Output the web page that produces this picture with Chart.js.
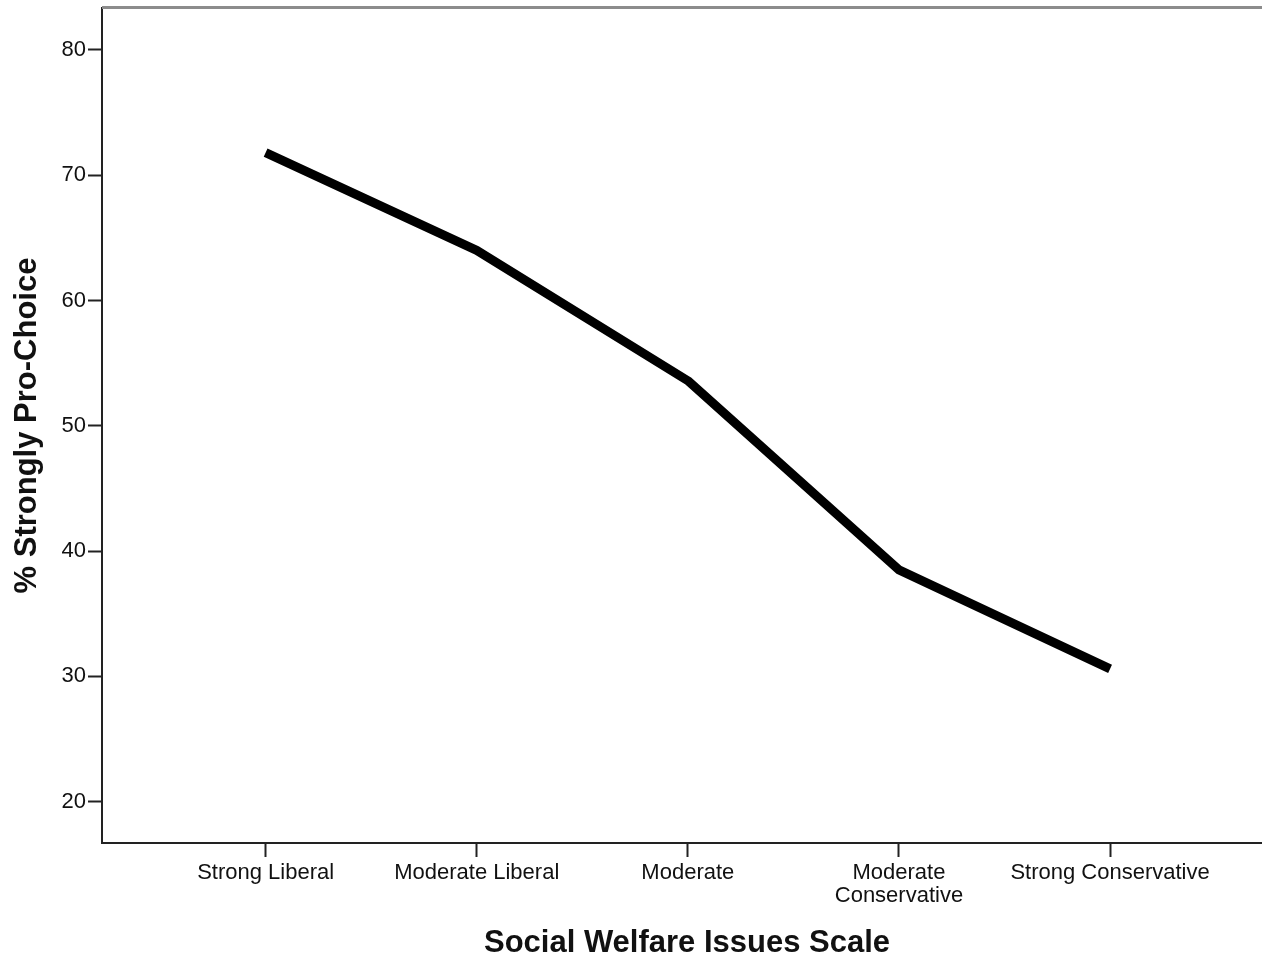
<!DOCTYPE html>
<html>
<head>
<meta charset="utf-8">
<script src="https://cdn.jsdelivr.net/npm/chart.js@4/dist/chart.umd.min.js"></script>
<style>
html,body{margin:0;padding:0;background:#fff;overflow:hidden;width:1262px;height:959px;}
#wrap{width:1272px;height:959px;}
</style>
</head>
<body>
<div id="wrap"><canvas id="c" width="1272" height="959"></canvas></div>
<script>
const categories = ["Strong Liberal", "Moderate Liberal", "Moderate", "Moderate Conservative", "Strong Conservative"];
const tickLabels = ["Strong Liberal", "Moderate Liberal", "Moderate", ["Moderate", "Conservative"], "Strong Conservative"];
const pctStronglyProChoice = [71.8, 64.0, 53.6, 38.5, 30.6];
const yTickValues = [20, 30, 40, 50, 60, 70, 80];
const xTitle = "Social Welfare Issues Scale";
const yTitle = "% Strongly Pro-Choice";

const points = categories.map((c, i) => ({x: i, y: pctStronglyProChoice[i]}));

const topBorder = {
  id: 'topBorder',
  afterDraw(chart) {
    const {ctx, chartArea} = chart;
    ctx.save();
    ctx.strokeStyle = '#8c8c8c';
    ctx.lineWidth = 3;
    ctx.beginPath();
    ctx.moveTo(chartArea.left, chartArea.top - 0.5);
    ctx.lineTo(chartArea.right, chartArea.top - 0.5);
    ctx.stroke();
    ctx.restore();
  }
};

new Chart(document.getElementById('c'), {
  type: 'line',
  data: {
    datasets: [{
      label: yTitle,
      data: points,
      borderColor: '#000',
      borderWidth: 9,
      borderCapStyle: 'butt',
      borderJoinStyle: 'round',
      pointRadius: 0,
      tension: 0,
      fill: false
    }]
  },
  options: {
    responsive: false,
    animation: false,
    layout: {padding: {top: 8, right: 0, bottom: 0, left: 0}},
    plugins: {legend: {display: false}, tooltip: {enabled: false}},
    scales: {
      x: {
        type: 'linear',
        min: -0.775,
        max: 4.767,
        afterBuildTicks(scale) { scale.ticks = categories.map((c, i) => ({value: i})); },
        afterFit(scale) { scale.height = 116; scale.paddingLeft = 0; scale.paddingRight = 0; },
        grid: {drawOnChartArea: false, drawTicks: true, tickLength: 14, tickWidth: 2, tickColor: '#222'},
        border: {display: true, color: '#222', width: 2},
        ticks: {
          autoSkip: false,
          maxRotation: 0,
          padding: 4,
          color: '#111',
          font: {family: "'Liberation Sans', Arial, sans-serif", size: 22, lineHeight: 1.05},
          callback: (v) => tickLabels[v]
        },
        title: {
          display: true,
          text: xTitle,
          color: '#111',
          padding: {top: 0, bottom: 0},
          font: {family: "'Liberation Sans', Arial, sans-serif", size: 31, weight: 'bold', lineHeight: 1}
        }
      },
      y: {
        type: 'linear',
        min: 16.7,
        max: 83.35,
        afterBuildTicks(scale) { scale.ticks = yTickValues.map(v => ({value: v})); },
        afterFit(scale) { scale.width = 102; scale.paddingTop = 0; scale.paddingBottom = 0; },
        grid: {drawOnChartArea: false, drawTicks: true, tickLength: 14, tickWidth: 2, tickColor: '#222'},
        border: {display: true, color: '#222', width: 2},
        ticks: {
          padding: 2,
          color: '#111',
          font: {family: "'Liberation Sans', Arial, sans-serif", size: 22}
        },
        title: {
          display: true,
          text: yTitle,
          color: '#111',
          padding: {top: 12, bottom: 0},
          font: {family: "'Liberation Sans', Arial, sans-serif", size: 31, weight: 'bold', lineHeight: 1}
        }
      }
    }
  },
  plugins: [topBorder]
});
</script>
</body>
</html>
